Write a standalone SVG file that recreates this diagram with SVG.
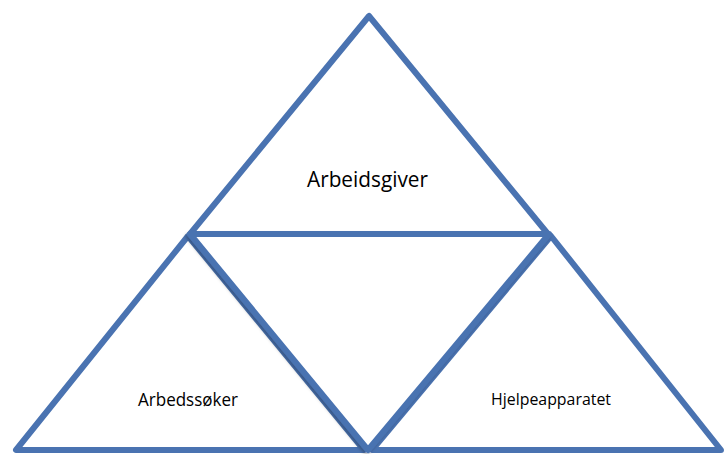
<svg xmlns="http://www.w3.org/2000/svg" width="725" height="454" viewBox="0 0 725 454">
  <style>
    .edge { fill: #ffffff; stroke: #4a73b1; stroke-width: 6; stroke-linejoin: round; }
    .label { font-family: "Open Sans", "Noto Sans", "Liberation Sans", sans-serif; fill: #000000; }
  </style>
  <defs>
    <filter id="soft-shadow" x="-10%" y="-10%" width="120%" height="120%">
      <feDropShadow dx="-1.5" dy="2" stdDeviation="1.6" flood-color="#000000" flood-opacity="0.25"/>
    </filter>
  </defs>
  <rect width="725" height="454" fill="#ffffff"/>

  <!-- lower-left triangle -->
  <g id="arbedssoker">
    <polygon class="edge" points="188,236 16,450 364,450"/>
    <text class="label" x="138" y="406" font-size="18" textLength="100" lengthAdjust="spacingAndGlyphs">Arbedssøker</text>
  </g>

  <!-- lower-right triangle -->
  <g id="hjelpeapparatet">
    <polygon class="edge" points="551,236 372,450 721,450"/>
    <text class="label" x="491" y="405" font-size="17" textLength="120" lengthAdjust="spacingAndGlyphs">Hjelpeapparatet</text>
  </g>

  <!-- top triangle -->
  <g id="arbeidsgiver">
    <polygon class="edge" points="369,16 190,234 548,234"/>
    <text class="label" x="307" y="187" font-size="22" textLength="121" lengthAdjust="spacingAndGlyphs">Arbeidsgiver</text>
  </g>

  <!-- inverted middle triangle -->
  <g id="midten">
    <polygon class="edge" points="190,234 549,234 368,450" filter="url(#soft-shadow)"/>
  </g>
</svg>
